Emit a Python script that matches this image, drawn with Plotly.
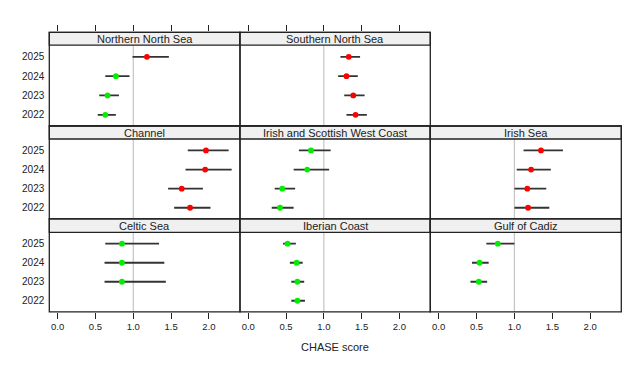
import plotly.graph_objects as go

years = [2022, 2023, 2024, 2025]
regions = ["Northern North Sea", "Southern North Sea", "Channel",
           "Irish and Scottish West Coast", "Irish Sea",
           "Celtic Sea", "Iberian Coast", "Gulf of Cadiz"]
# values per region, ordered 2022, 2023, 2024, 2025
score = [
    [0.63, 0.66, 0.77, 1.18],
    [1.42, 1.39, 1.30, 1.33],
    [1.75, 1.64, 1.95, 1.96],
    [0.42, 0.45, 0.78, 0.83],
    [1.18, 1.17, 1.22, 1.35],
    [None, 0.85, 0.85, 0.85],
    [0.65, 0.65, 0.64, 0.52],
    [None, 0.53, 0.54, 0.78],
]
lower = [
    [0.53, 0.55, 0.63, 0.99],
    [1.30, 1.27, 1.19, 1.22],
    [1.54, 1.46, 1.69, 1.72],
    [0.31, 0.35, 0.60, 0.67],
    [1.00, 1.00, 1.03, 1.12],
    [None, 0.62, 0.62, 0.63],
    [0.57, 0.57, 0.55, 0.46],
    [None, 0.42, 0.44, 0.63],
]
upper = [
    [0.77, 0.81, 0.95, 1.47],
    [1.57, 1.54, 1.45, 1.48],
    [2.02, 1.92, 2.30, 2.26],
    [0.60, 0.62, 1.07, 1.09],
    [1.46, 1.42, 1.48, 1.64],
    [None, 1.43, 1.41, 1.34],
    [0.75, 0.74, 0.72, 0.63],
    [None, 0.64, 0.66, 1.00],
]
x_ticks = [0, 0.5, 1.0, 1.5, 2.0]
x_ticktext = ["0.0", "0.5", "1.0", "1.5", "2.0"]
x_title = "CHASE score"

# page has an 8px body margin; figure is sized to fit the window
OFF = 8
W, H = 643 - OFF, 367 - OFF
FONT = "Liberation Sans, Arial, sans-serif"
TXT = "#222222"
positions = [(0, 0), (0, 1), (1, 0), (1, 1), (1, 2), (2, 0), (2, 1), (2, 2)]
cols_px = [(49.3, 240.0), (240.0, 430.3), (430.3, 621.3)]
rows_px = [(45.2, 126.0), (139.0, 218.8), (232.3, 311.8)]
strips_px = [(32.3, 45.2), (126.0, 139.0), (218.8, 232.3)]
Y_LO, Y_HI = 2021.42, 2025.6


def px_x(v):
    return (v - OFF) / W


def px_y(v):
    return 1 - (v - OFF) / H


fig = go.Figure()
shapes = []
annotations = []
layout = {}

for i, name in enumerate(regions):
    r, c = positions[i]
    n = i + 1
    xa = "x" if n == 1 else f"x{n}"
    ya = "y" if n == 1 else f"y{n}"
    ys, xs, lo_e, hi_e, cols = [], [], [], [], []
    for yr, s, lo, hi in zip(years, score[i], lower[i], upper[i]):
        if s is None:
            continue
        ys.append(yr)
        xs.append(s)
        lo_e.append(s - lo)
        hi_e.append(hi - s)
        cols.append("#ff0000" if s > 1 else "#00ee00")
    fig.add_trace(go.Scatter(
        x=xs, y=ys, xaxis=xa, yaxis=ya, mode="markers",
        marker=dict(color=cols, size=5.8, line=dict(width=0)),
        error_x=dict(type="data", symmetric=False, array=hi_e, arrayminus=lo_e,
                     width=0, thickness=1.8, color="#333333"),
        hoverinfo="skip", showlegend=False))

    x0, x1 = cols_px[c]
    y0, y1 = rows_px[r]
    s0, s1 = strips_px[r]
    xkey = "xaxis" if n == 1 else f"xaxis{n}"
    ykey = "yaxis" if n == 1 else f"yaxis{n}"
    xcfg = dict(domain=[px_x(x0), px_x(x1)], range=[-0.11, 2.41], anchor=ya,
                showgrid=False, zeroline=False, showline=False,
                tickvals=x_ticks, ticktext=x_ticktext,
                tickfont=dict(family=FONT, size=9.5, color=TXT))
    ytop = Y_HI
    ydom_top = px_y(y0)
    if r == 0:
        # top row: axis spans the strip as well so ticks sit above the strip
        xcfg.update(side="top", ticks="outside", ticklen=6, tickwidth=1,
                    tickcolor=TXT, showticklabels=False)
        ytop = Y_HI + (Y_HI - Y_LO) * (y0 - s0) / (y1 - y0)
        ydom_top = px_y(s0)
    elif r == 2:
        xcfg.update(ticks="outside", ticklen=6, tickwidth=1,
                    tickcolor=TXT, showticklabels=True)
    else:
        xcfg.update(ticks="", showticklabels=False)
    layout[xkey] = xcfg
    layout[ykey] = dict(domain=[px_y(y1), ydom_top], range=[Y_LO, ytop],
                        anchor=xa, showgrid=False, zeroline=False, showline=False,
                        tickvals=years, ticktext=[str(y) for y in years],
                        ticks="outside" if c == 0 else "", ticklen=2,
                        tickcolor="rgba(0,0,0,0)",
                        showticklabels=(c == 0),
                        tickfont=dict(family=FONT, size=10, color=TXT))

    # reference line at score 1 (plot area only)
    shapes.append(dict(type="line", xref=xa, yref="paper", x0=1, x1=1,
                       y0=px_y(y1), y1=px_y(y0),
                       line=dict(color="#c4c4c4", width=1.2), layer="below"))
    # strip
    shapes.append(dict(type="rect", xref="paper", yref="paper",
                       x0=px_x(x0), x1=px_x(x1), y0=px_y(s1), y1=px_y(s0),
                       fillcolor="#f0f0f0", line=dict(color="#222222", width=1.3)))
    annotations.append(dict(text=name, xref="paper", yref="paper",
                            x=(px_x(x0) + px_x(x1)) / 2, y=(px_y(s0) + px_y(s1)) / 2,
                            xanchor="center", yanchor="middle", showarrow=False,
                            font=dict(family=FONT, size=11, color=TXT)))
    # panel border
    shapes.append(dict(type="rect", xref="paper", yref="paper",
                       x0=px_x(x0), x1=px_x(x1), y0=px_y(y1), y1=px_y(s0),
                       line=dict(color="#222222", width=1.3)))

annotations.append(dict(text=x_title, xref="paper", yref="paper",
                        x=px_x(335), y=px_y(346.7), xanchor="center", yanchor="middle",
                        showarrow=False, font=dict(family=FONT, size=11, color=TXT)))

fig.update_layout(template="none", width=W, height=H,
                  margin=dict(l=0, r=0, t=0, b=0),
                  paper_bgcolor="white", plot_bgcolor="white",
                  showlegend=False, shapes=shapes, annotations=annotations,
                  **layout)
fig.write_html("out.html")
